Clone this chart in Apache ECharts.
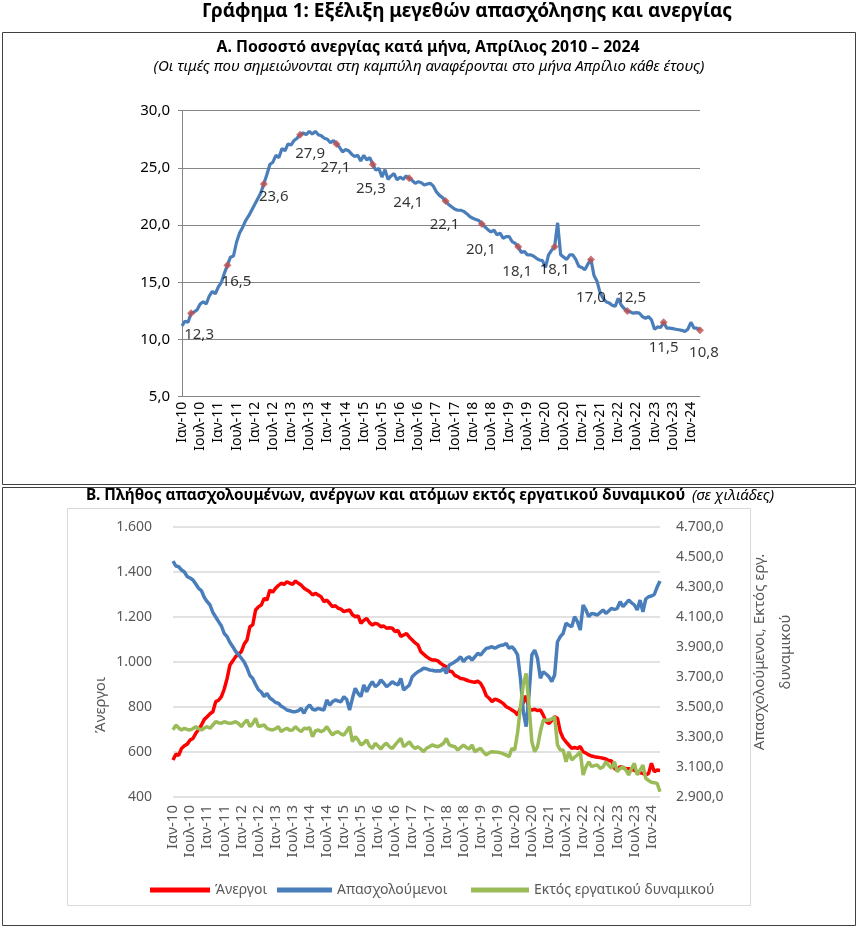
<!DOCTYPE html>
<html><head><meta charset="utf-8">
<script src="https://cdn.jsdelivr.net/npm/echarts@6/dist/echarts.min.js"></script>
<style>html,body{margin:0;padding:0;background:#fff}#c{width:858px;height:928px}</style>
</head><body><div id="c"></div>
<script>
// ---------- DATA ----------
const monthNames = ['Ιαν','Φεβ','Μαρ','Απρ','Μαϊ','Ιουν','Ιουλ','Αυγ','Σεπ','Οκτ','Νοε','Δεκ'];
const years = [2010,2011,2012,2013,2014,2015,2016,2017,2018,2019,2020,2021,2022,2023,2024];
const lastYearMonths = 4; // Jan-Apr 2024

// A. Unemployment rate (%), monthly
const unemploymentRate = [
  11.2,11.6,11.5,12.3,12.4,12.6,13.1,13.3,13.1,13.8,14.2,14.0,
  14.6,15.0,15.8,16.5,17.2,17.3,18.5,19.3,19.8,20.4,20.8,21.3,
  21.8,22.3,22.8,23.6,24.4,25.3,25.5,26.1,25.9,26.7,26.5,27.1,
  27.0,27.4,27.6,27.9,28.05,27.9,28.2,27.95,28.2,27.9,27.8,27.6,
  27.5,27.2,27.4,27.1,26.8,26.4,26.6,26.5,26.2,26.0,26.1,25.6,
  26.1,25.7,25.9,25.3,24.8,24.95,24.2,24.85,24.0,24.3,24.5,23.95,
  24.2,24.0,24.3,24.1,23.9,23.65,23.8,23.7,23.5,23.6,23.65,23.4,
  22.9,22.6,22.4,22.1,21.8,21.6,21.4,21.3,21.3,21.2,21.0,20.75,
  20.6,20.5,20.4,20.1,19.85,19.6,19.4,19.55,19.15,19.3,18.85,19.0,
  19.0,18.55,18.4,18.1,17.6,17.7,17.4,17.4,17.3,17.1,16.95,16.9,
  16.3,17.4,17.8,18.1,20.2,17.4,17.2,17.0,17.4,17.4,17.0,16.4,
  16.3,16.1,16.6,17.0,15.6,15.1,14.1,13.6,13.3,13.2,13.0,12.9,
  13.6,13.0,12.7,12.5,12.4,12.3,12.35,12.3,12.0,11.85,12.0,11.7,
  10.9,11.1,11.05,11.5,11.0,11.0,10.95,10.9,10.85,10.8,10.7,10.9,
  11.5,11.0,11.0,10.8
];

// B. Thousands of persons, monthly
const unemployed = [
  564,590,585,616,628,635,653,660,683,700,720,745,
  757,770,779,824,830,846,880,927,987,1005,1024,1035,
  1046,1080,1098,1157,1165,1231,1245,1253,1283,1275,1320,1310,
  1328,1340,1350,1345,1357,1350,1345,1360,1350,1342,1328,1320,
  1312,1298,1305,1298,1290,1268,1275,1261,1246,1250,1239,1235,
  1224,1228,1231,1210,1201,1205,1172,1185,1194,1175,1164,1172,
  1168,1157,1160,1150,1152,1150,1135,1140,1113,1120,1127,1110,
  1098,1085,1076,1046,1035,1024,1015,1009,1009,1005,994,985,
  979,960,957,940,935,927,925,920,915,912,910,915,
  905,883,850,839,824,835,831,824,815,801,795,787,
  779,764,795,820,850,790,786,790,784,787,764,735,
  727,740,757,750,690,661,645,631,616,620,616,624,
  601,595,587,582,579,577,575,572,569,562,560,527,
  520,535,530,527,526,524,518,512,508,505,498,505,
  550,512,520,518
];
const employed = [
  4473,4440,4435,4413,4400,4369,4360,4347,4320,4291,4275,4230,
  4202,4180,4130,4100,4069,4040,3990,3969,3930,3902,3870,3850,
  3825,3800,3760,3710,3690,3650,3615,3600,3569,3591,3560,3547,
  3530,3525,3505,3495,3480,3475,3469,3469,3475,3491,3458,3495,
  3513,3485,3480,3491,3485,3480,3547,3513,3535,3547,3540,3535,
  3569,3550,3480,3558,3625,3590,3569,3647,3602,3640,3669,3635,
  3650,3680,3660,3635,3650,3669,3655,3647,3691,3613,3630,3647,
  3702,3720,3735,3745,3758,3755,3747,3745,3740,3742,3740,3758,
  3724,3780,3790,3802,3815,3835,3802,3825,3835,3813,3835,3858,
  3846,3870,3891,3895,3902,3891,3902,3910,3913,3924,3891,3902,
  3880,3847,3691,3469,3369,3580,3847,3880,3824,3691,3735,3720,
  3702,3669,3713,3935,3969,3991,4058,4045,4035,4102,4069,4013,
  4180,4147,4102,4124,4120,4113,4130,4147,4124,4140,4158,4150,
  4158,4202,4169,4190,4213,4195,4180,4147,4213,4135,4220,4235,
  4240,4250,4300,4340
];
const outsideLabourForce = [
  3347,3380,3360,3347,3358,3350,3347,3355,3369,3355,3347,3360,
  3369,3358,3380,3402,3395,3391,3402,3395,3391,3395,3402,3390,
  3369,3395,3413,3369,3390,3424,3369,3375,3380,3358,3350,3347,
  3355,3369,3335,3350,3358,3345,3347,3369,3350,3335,3358,3355,
  3362,3302,3340,3347,3335,3345,3369,3340,3313,3330,3335,3320,
  3313,3340,3369,3269,3302,3280,3247,3260,3280,3240,3224,3258,
  3240,3220,3245,3258,3235,3224,3247,3270,3291,3235,3250,3269,
  3240,3224,3235,3220,3202,3225,3235,3247,3240,3235,3245,3258,
  3291,3247,3240,3235,3213,3230,3247,3230,3220,3247,3202,3215,
  3224,3200,3180,3195,3202,3200,3198,3195,3187,3180,3169,3224,
  3213,3330,3500,3650,3724,3513,3269,3202,3235,3335,3413,3410,
  3413,3420,3435,3247,3213,3213,3135,3202,3147,3165,3180,3202,
  3047,3100,3135,3102,3110,3113,3091,3100,3135,3110,3091,3135,
  3069,3090,3102,3080,3047,3090,3124,3047,3080,3113,3024,3010,
  2998,2995,2991,2935
];

// ---------- STYLE (not data) ----------
const FONT = 'Noto Sans';
// label offsets [dx, dy] from the April marker centre, one per year
const aprilLabelOffsets = [
  [8,22],[9,17],[10,13],[10,19],[-1,24],[-2,24],[-1,25],[-1,24],[-1,26],[-1,25],
  [0,23],[0,38],[4,-13],[0,25],[4,22]
];

// ---------- BUILD ----------
const categories = [];
years.forEach(function (y, yi) {
  monthNames.forEach(function (mn, mi) {
    if (yi === years.length - 1 && mi >= lastYearMonths) return;
    categories.push(mn + '-' + String(y).slice(2));
  });
});
const fmt1 = v => v.toFixed(1).replace('.', ',');
const thousands = v => String(Math.round(v)).replace(/\B(?=(\d{3})+(?!\d))/g, '.');

const aprilData = [];
let k = 0;
categories.forEach(function (c, i) {
  if (i % 12 === 3) {
    const off = aprilLabelOffsets[k++] || [0, 24];
    aprilData.push({ value: [i, unemploymentRate[i]], label: { offset: off } });
  }
});

const chart = echarts.init(document.getElementById('c'), null, { renderer: 'canvas' });

const legendText = { color: '#595959', fontSize: 14, fontFamily: FONT };

const option = {
  animation: false,
  backgroundColor: '#ffffff',
  textStyle: { fontFamily: FONT },
  grid: [
    { left: 182, top: 110.7, width: 518, height: 286 },
    { left: 173, top: 527, width: 487, height: 270 }
  ],
  xAxis: [
    {
      type: 'category', gridIndex: 0, data: categories, boundaryGap: false,
      axisLine: { show: true, lineStyle: { color: '#868686', width: 1 } },
      axisTick: { show: false },
      axisLabel: { interval: 5, rotate: 90, margin: 5, color: '#000', fontSize: 14, fontFamily: FONT },
      splitLine: { show: false }
    },
    {
      type: 'category', gridIndex: 1, data: categories, boundaryGap: false,
      axisLine: { show: false },
      axisTick: { show: false },
      axisLabel: { interval: 5, rotate: 90, margin: 8, color: '#595959', fontSize: 15, fontFamily: FONT },
      splitLine: { show: false }
    }
  ],
  yAxis: [
    {
      type: 'value', gridIndex: 0, min: 5, max: 30, interval: 5,
      axisLine: { show: true, lineStyle: { color: '#868686', width: 1 } },
      axisTick: { show: true, length: 4, lineStyle: { color: '#868686' } },
      axisLabel: { formatter: fmt1, color: '#000', fontSize: 15, margin: 12, fontFamily: FONT },
      splitLine: { show: true, lineStyle: { color: '#868686', width: 1 } }
    },
    {
      type: 'value', gridIndex: 1, min: 400, max: 1600, interval: 200,
      axisLine: { show: false }, axisTick: { show: false },
      axisLabel: { formatter: thousands, color: '#595959', fontSize: 14, margin: 21, fontFamily: FONT },
      splitLine: { show: true, lineStyle: { color: '#d9d9d9', width: 1.5 } }
    },
    {
      type: 'value', gridIndex: 1, position: 'right', min: 2900, max: 4700, interval: 200,
      axisLine: { show: false }, axisTick: { show: false },
      axisLabel: { formatter: v => thousands(v) + ',0', color: '#595959', fontSize: 14, margin: 16, fontFamily: FONT },
      splitLine: { show: false }
    }
  ],
  legend: [
    { data: ['Άνεργοι'], left: 145, top: 878, icon: 'rect', itemWidth: 60, itemHeight: 5, textStyle: legendText },
    { data: ['Απασχολούμενοι'], left: 272, top: 878, icon: 'rect', itemWidth: 55, itemHeight: 5, textStyle: legendText },
    { data: ['Εκτός εργατικού δυναμικού'], left: 466, top: 878, icon: 'rect', itemWidth: 58, itemHeight: 5, textStyle: legendText }
  ],
  series: [
    {
      name: 'Ποσοστό ανεργίας', type: 'line', xAxisIndex: 0, yAxisIndex: 0,
      data: unemploymentRate, showSymbol: false, smooth: false,
      lineStyle: { color: '#4a7ebb', width: 3.2 }, itemStyle: { color: '#4a7ebb' }, z: 2
    },
    {
      name: 'Απρίλιος', type: 'scatter', xAxisIndex: 0, yAxisIndex: 0,
      data: aprilData, symbol: 'diamond', symbolSize: 8,
      itemStyle: { color: '#c0504d' }, z: 3,
      label: { show: true, position: 'inside', formatter: p => fmt1(p.value[1]),
        color: '#000', fontSize: 15, fontFamily: FONT }
    },
    {
      name: 'Άνεργοι', type: 'line', xAxisIndex: 1, yAxisIndex: 1,
      data: unemployed, showSymbol: false,
      lineStyle: { color: '#ff0000', width: 3.5 }, itemStyle: { color: '#ff0000' }, z: 2
    },
    {
      name: 'Απασχολούμενοι', type: 'line', xAxisIndex: 1, yAxisIndex: 2,
      data: employed, showSymbol: false,
      lineStyle: { color: '#4a7ebb', width: 3.5 }, itemStyle: { color: '#4a7ebb' }, z: 3
    },
    {
      name: 'Εκτός εργατικού δυναμικού', type: 'line', xAxisIndex: 1, yAxisIndex: 2,
      data: outsideLabourForce, showSymbol: false,
      lineStyle: { color: '#9bbb59', width: 3.5 }, itemStyle: { color: '#9bbb59' }, z: 4
    }
  ],
  graphic: [
    { type: 'rect', shape: { x: 2.5, y: 32.5, width: 853, height: 452 }, style: { fill: 'none', stroke: '#404040', lineWidth: 1 }, silent: true },
    { type: 'rect', shape: { x: 2.5, y: 487.5, width: 853, height: 438 }, style: { fill: 'none', stroke: '#404040', lineWidth: 1 }, silent: true },
    { type: 'rect', shape: { x: 67.5, y: 508.5, width: 683, height: 397 }, style: { fill: 'none', stroke: '#d9d9d9', lineWidth: 1 }, silent: true },
    { type: 'text', x: 467, y: 12, style: { text: 'Γράφημα 1: Εξέλιξη μεγεθών απασχόλησης και ανεργίας',
      font: 'bold 19px "Noto Sans"', fill: '#000', align: 'center', verticalAlign: 'middle' } },
    { type: 'text', x: 428, y: 47, style: { text: 'Α. Ποσοστό ανεργίας κατά μήνα, Απρίλιος 2010 – 2024',
      font: 'bold 15.8px "Noto Sans"', fill: '#000', align: 'center', verticalAlign: 'middle' } },
    { type: 'text', x: 429, y: 67, style: { text: '(Οι τιμές που σημειώνονται στη καμπύλη αναφέρονται στο μήνα Απρίλιο κάθε έτους)',
      font: 'italic 15px "Noto Sans"', fill: '#000', align: 'center', verticalAlign: 'middle' } },
    { type: 'text', x: 430, y: 496, style: {
      text: '{b|Β. Πλήθος απασχολουμένων, ανέργων και ατόμων εκτός εργατικού δυναμικού}  {i|(σε χιλιάδες)}',
      align: 'center', verticalAlign: 'middle',
      rich: {
        b: { font: 'bold 15.4px "Noto Sans"', fill: '#000' },
        i: { font: 'italic 15px "Noto Sans"', fill: '#000' }
      } } },
    { type: 'text', x: 101, y: 705, rotation: Math.PI / 2, style: { text: 'Άνεργοι',
      font: '15px "Noto Sans"', fill: '#595959', align: 'center', verticalAlign: 'middle' } },
    { type: 'text', x: 773, y: 652, rotation: Math.PI / 2, style: { text: 'Απασχολούμενοι, Εκτός εργ.\nδυναμικού',
      font: '15px "Noto Sans"', fill: '#595959', align: 'center', verticalAlign: 'middle', lineHeight: 26 } }
  ]
};
chart.setOption(option);
</script>
</body></html>
